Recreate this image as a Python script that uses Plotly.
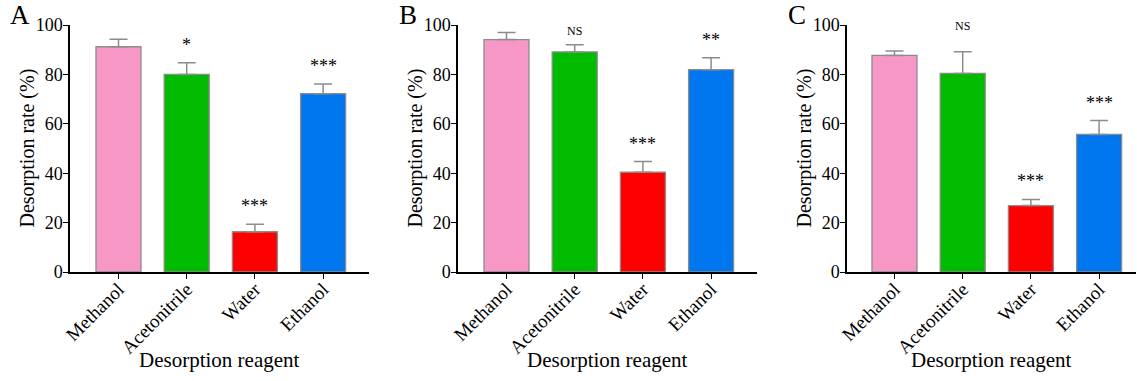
import plotly.graph_objects as go

# ---------------- data ----------------
categories = ["Methanol", "Acetonitrile", "Water", "Ethanol"]
panel_letters = ["A", "B", "C"]

means_A = [91.2, 80.0, 16.3, 72.2]
errs_A = [3.0, 4.7, 3.0, 3.9]
sig_A = ["", "*", "***", "***"]

means_B = [94.1, 89.1, 40.4, 81.9]
errs_B = [2.9, 2.9, 4.3, 4.8]
sig_B = ["", "NS", "***", "**"]

means_C = [87.7, 80.4, 26.9, 55.7]
errs_C = [1.8, 8.8, 2.5, 5.6]
sig_C = ["", "NS", "***", "***"]

y_ticks = [0, 20, 40, 60, 80, 100]
x_title = "Desorption reagent"
y_title = "Desorption rate (%)"

# ---------------- style ----------------
bar_colors = ["#F797C6", "#00BB00", "#FF0000", "#0077EE"]
FONT = "Liberation Serif, Times New Roman, serif"
W, H = 1137, 381
x_domains_px = [(70, 369), (458, 757), (847, 1136)]
y_domain_px = (25, 272)          # top, bottom in px
first_offset_px = [48.5, 48.5, 47.5]
cat_px = 68.2
extra_label_shift = {(2, 1): 12}   # (panel, bar) -> extra px upward
x_title_y_px = 360
y_title_dx_px = 43

panels = [
    (means_A, errs_A, sig_A),
    (means_B, errs_B, sig_B),
    (means_C, errs_C, sig_C),
]

fig = go.Figure()
annotations = []
ydom = [1 - y_domain_px[1] / H, 1 - y_domain_px[0] / H]

for i, (means, errs, sigs) in enumerate(panels):
    n = i + 1
    xa = "x" if n == 1 else f"x{n}"
    ya = "y" if n == 1 else f"y{n}"
    fig.add_trace(go.Bar(
        x=categories, y=means,
        xaxis=xa, yaxis=ya,
        width=0.66,
        marker=dict(color=bar_colors, line=dict(color="#8c8c8c", width=1.3)),
        error_y=dict(type="data", symmetric=False, array=errs,
                     arrayminus=[0] * len(errs),
                     color="#8c8c8c", thickness=1.5, width=9),
        showlegend=False,
    ))
    x0, x1 = x_domains_px[i]
    lo = -first_offset_px[i] / cat_px
    hi = lo + (x1 - x0) / cat_px
    axis_common = dict(
        showline=True, linecolor="black", linewidth=1.5,
        ticks="outside", ticklen=5, tickwidth=1.3, tickcolor="black",
        showgrid=False, zeroline=False, automargin=False,
    )
    fig.update_layout(**{
        ("xaxis" if n == 1 else f"xaxis{n}"): dict(
            domain=[x0 / W, x1 / W], anchor=ya, range=[lo, hi],
            type="category", tickangle=-45, ticklabelstandoff=-8,
            tickfont=dict(family=FONT, size=19, color="black"),
            **axis_common),
        ("yaxis" if n == 1 else f"yaxis{n}"): dict(
            domain=ydom, anchor=xa, range=[0, 100],
            tickvals=y_ticks, ticklabelstandoff=-3,
            tickfont=dict(family=FONT, size=18, color="black"),
            **axis_common),
    })
    # axis titles
    annotations.append(dict(
        x=(x0 + x1) / 2 / W, y=1 - x_title_y_px / H, xref="paper", yref="paper",
        text=x_title, showarrow=False, xanchor="center", yanchor="middle",
        font=dict(family=FONT, size=21, color="black"),
    ))
    annotations.append(dict(
        x=(x0 - y_title_dx_px) / W, y=(ydom[0] + ydom[1]) / 2,
        xref="paper", yref="paper", textangle=-90,
        text=y_title, showarrow=False, xanchor="center", yanchor="middle",
        font=dict(family=FONT, size=20, color="black"),
    ))
    for j, (c, m, e, s) in enumerate(zip(categories, means, errs, sigs)):
        if not s:
            continue
        is_ns = s == "NS"
        annotations.append(dict(
            x=c, y=m + e, xref=xa, yref=ya, text=s, showarrow=False,
            yanchor="bottom",
            yshift=(5 if is_ns else 6) + extra_label_shift.get((i, j), 0),
            font=dict(family=FONT, size=(12 if is_ns else 18), color="black"),
        ))
    annotations.append(dict(
        x=(x0 - 50) / W, y=1 - 15 / H, xref="paper", yref="paper",
        text=panel_letters[i], showarrow=False,
        xanchor="center", yanchor="middle",
        font=dict(family=FONT, size=27, color="black"),
    ))

fig.update_layout(
    width=W, height=H,
    margin=dict(l=0, r=0, t=0, b=0),
    paper_bgcolor="white", plot_bgcolor="white",
    bargap=0.34,
    annotations=annotations,
    font=dict(family=FONT, color="black"),
)

fig.write_html("out.html")
